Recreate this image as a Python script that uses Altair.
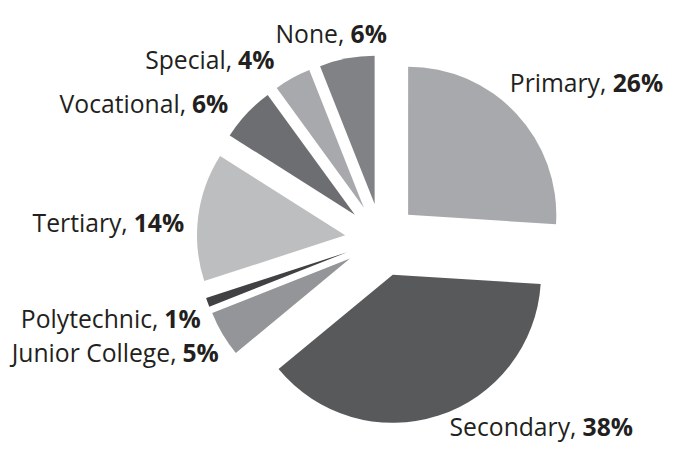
import math
import altair as alt
import pandas as pd

# ---- data ----
categories = ["Primary", "Secondary", "Junior College", "Polytechnic",
              "Tertiary", "Vocational", "Special", "None"]
values = [26, 38, 5, 1, 14, 6, 4, 6]
colors = ["#a7a9ac", "#58595b", "#939598", "#414042",
          "#bcbec0", "#6d6e71", "#a7a9ac", "#808285"]

# ---- style / layout constants ----
FONT = "Open Sans"
FS = 25
CX, CY = 378, 232      # pie centre (chart coords)
R = 150                # slice radius
D = 37                 # explosion distance
RL = 200               # label radius (near corner of label box)
SHIFT = 4 * math.pi / 180  # label angular shift (counter-clockwise)
RPAD = 6               # pull right-hand labels slightly inward
TEXT = "#231f20"

REG = {'a': .556, 'b': .613, 'c': .476, 'd': .613, 'e': .561, 'f': .339, 'g': .548,
       'h': .614, 'i': .253, 'j': .253, 'k': .525, 'l': .253, 'm': .93, 'n': .614,
       'o': .604, 'p': .613, 'q': .613, 'r': .408, 's': .477, 't': .353, 'u': .614,
       'v': .501, 'w': .778, 'x': .524, 'y': .502, 'z': .477, 'C': .633, 'J': .266,
       'N': .755, 'P': .603, 'S': .547, 'T': .556, 'V': .595, ',': .245, ' ': .26}
BOLD = {d: .572 for d in "0123456789"}
BOLD['%'] = .88


def width(s, table, default=.58):
    return sum(table.get(ch, default) for ch in s) * FS


df = pd.DataFrame({
    "cat": categories,
    "value": values,
    "idx": list(range(len(categories))),
})
df["name"] = df["cat"] + ","
df["pct"] = df["value"].astype(str) + "%"
df["wname"] = [width(n + " ", REG) for n in df["name"]]
df["wpct"] = [width(p, BOLD) for p in df["pct"]]
df["wsp"] = width(" ", REG)

base = alt.Chart(df).transform_window(
    cum="sum(value)", sort=[alt.SortField("idx")], frame=[None, 0]
).transform_calculate(
    start="datum.cum - datum.value",
    end="datum.cum",
    mid="(datum.cum - datum.value / 2) * 2 * PI / 100",
).transform_calculate(
    la=f"datum.mid - {SHIFT}",
).transform_calculate(
    px=f"{CX} + {D} * sin(datum.mid)",
    py=f"{CY} - {D} * cos(datum.mid)",
    lx=f"{CX} + {RL} * sin(datum.la)",
    ly=f"{CY} - {RL} * cos(datum.la) - 10 * cos(datum.la) + 4",
    s="sin(datum.la)",
)

arcs = base.mark_arc(outerRadius=R, innerRadius=0).encode(
    theta=alt.Theta("start:Q", scale=alt.Scale(domain=[0, 100], range=[0, 2 * math.pi])),
    theta2="end:Q",
    x=alt.X("px:Q", scale=None, axis=None),
    y=alt.Y("py:Q", scale=None, axis=None),
    color=alt.Color("cat:N", scale=alt.Scale(domain=categories, range=colors), legend=None),
)

txt = dict(font=FONT, fontSize=FS, color=TEXT, baseline="alphabetic")

left = base.transform_filter("datum.s < -0.3")
name_l = left.transform_calculate(nx="datum.lx - datum.wpct - datum.wsp").mark_text(
    align="right", fontWeight="normal", **txt
).encode(x=alt.X("nx:Q", scale=None), y=alt.Y("ly:Q", scale=None), text="name:N")
pct_l = left.mark_text(align="right", fontWeight="bold", **txt).encode(
    x=alt.X("lx:Q", scale=None), y=alt.Y("ly:Q", scale=None), text="pct:N")

right = base.transform_filter("datum.s >= -0.3").transform_calculate(
    nx=f"datum.s > 0.3 ? datum.lx - {RPAD} : datum.lx - (datum.wname + datum.wpct) / 2"
).transform_calculate(bx="datum.nx + datum.wname")
name_r = right.mark_text(align="left", fontWeight="normal", **txt).encode(
    x=alt.X("nx:Q", scale=None), y=alt.Y("ly:Q", scale=None), text="name:N")
pct_r = right.mark_text(align="left", fontWeight="bold", **txt).encode(
    x=alt.X("bx:Q", scale=None), y=alt.Y("ly:Q", scale=None), text="pct:N")

chart = alt.layer(arcs, name_l, pct_l, name_r, pct_r).properties(
    width=666, height=443, padding=0, autosize=alt.AutoSizeParams(type="none"),
    background="white",
).configure_view(stroke=None)

chart.save("out.html", embed_options={"renderer": "svg", "actions": False})
